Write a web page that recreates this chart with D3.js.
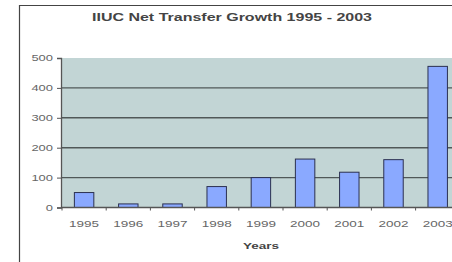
<!doctype html>
<html>
  <head>
    <meta charset="utf-8">
    <script src="https://cdn.jsdelivr.net/npm/d3@7/dist/d3.min.js"></script>
    <style>
      body { margin: 0; background: #fff; }
      svg { display: block; }
    </style>
  </head>
  <body>
    <div id="chart"></div>
  </body>
  <script>
    var years = ["1995", "1996", "1997", "1998", "1999", "2000", "2001", "2002", "2003"];
    var transfers = [50, 12, 12, 70, 100, 162, 118, 160, 472];
    var yTicks = [0, 100, 200, 300, 400, 500];
    var title = "IIUC Net Transfer Growth 1995 - 2003";
    var xTitle = "Years";

    var width = 452, height = 262;
    var plotLeft = 61, plotTop = 58, plotBottom = 207.5, bandW = 44.2;

    var svg = d3.select("#chart").append("svg")
      .attr("width", width)
      .attr("height", height);

    // outer frame (cut off at right and bottom)
    svg.append("path")
      .attr("d", "M19.5,262 V5.5 H452")
      .attr("fill", "none")
      .attr("stroke", "#444")
      .attr("stroke-width", 1.2);

    var x = d3.scaleBand()
      .domain(years)
      .range([plotLeft + 1, plotLeft + 1 + bandW * years.length])
      .paddingInner(0.56)
      .paddingOuter(0.28);

    var y = d3.scaleLinear()
      .domain([0, 500])
      .range([plotBottom, plotTop]);

    // plot background
    svg.append("rect")
      .attr("x", plotLeft)
      .attr("y", plotTop)
      .attr("width", width - plotLeft)
      .attr("height", plotBottom - plotTop)
      .attr("fill", "#c2d5d5");

    // gridlines
    svg.append("g")
      .selectAll("line")
      .data(yTicks.filter(function(d) { return d > 0 && d < 500; }))
      .enter().append("line")
      .attr("x1", plotLeft)
      .attr("x2", width)
      .attr("y1", function(d) { return y(d); })
      .attr("y2", function(d) { return y(d); })
      .attr("stroke", "#505858")
      .attr("stroke-width", 1.4);

    // bars
    svg.append("g")
      .selectAll("rect")
      .data(years)
      .enter().append("rect")
      .attr("x", function(d) { return x(d); })
      .attr("y", function(d, i) { return y(transfers[i]); })
      .attr("width", x.bandwidth())
      .attr("height", function(d, i) { return plotBottom - y(transfers[i]); })
      .attr("fill", "#8aa9ff")
      .attr("stroke", "#2b3050")
      .attr("stroke-width", 1);

    // y axis
    var yAxis = svg.append("g")
      .attr("transform", "translate(" + plotLeft + ",0)")
      .call(d3.axisLeft(y).tickValues(yTicks).tickSize(4).tickPadding(4));
    yAxis.select(".domain").attr("stroke", "#555").attr("stroke-width", 1.3);
    yAxis.selectAll(".tick line").attr("stroke", "#555");
    yAxis.selectAll("text")
      .attr("font-family", "Arial, 'Liberation Sans', sans-serif")
      .attr("font-size", 9)
      .attr("fill", "#666")
      .attr("textLength", function(d) { return String(d).length * 7.2; })
      .attr("lengthAdjust", "spacingAndGlyphs");

    // x axis
    var xAxis = svg.append("g")
      .attr("transform", "translate(0," + plotBottom + ")")
      .call(d3.axisBottom(x).tickSize(0).tickPadding(13));
    xAxis.select(".domain").remove();
    svg.append("line")
      .attr("x1", plotLeft).attr("x2", width)
      .attr("y1", plotBottom).attr("y2", plotBottom)
      .attr("stroke", "#555").attr("stroke-width", 1.3);
    xAxis.selectAll("text")
      .attr("font-family", "Arial, 'Liberation Sans', sans-serif")
      .attr("font-size", 9)
      .attr("fill", "#666")
      .attr("textLength", 30)
      .attr("lengthAdjust", "spacingAndGlyphs");

    // small tick marks between categories
    svg.append("g")
      .selectAll("line")
      .data(years)
      .enter().append("line")
      .attr("x1", function(d) { return x(d) - x.step() * x.paddingInner() / 2; })
      .attr("x2", function(d) { return x(d) - x.step() * x.paddingInner() / 2; })
      .attr("y1", plotBottom)
      .attr("y2", plotBottom + 3)
      .attr("stroke", "#555");

    svg.append("text")
      .attr("x", 232)
      .attr("y", 21)
      .attr("text-anchor", "middle")
      .attr("font-family", "Arial, 'Liberation Sans', sans-serif")
      .attr("font-weight", "bold")
      .attr("font-size", 10)
      .attr("fill", "#444")
      .attr("textLength", 280)
      .attr("lengthAdjust", "spacingAndGlyphs")
      .text(title);

    svg.append("text")
      .attr("x", 261)
      .attr("y", 249)
      .attr("text-anchor", "middle")
      .attr("font-family", "Arial, 'Liberation Sans', sans-serif")
      .attr("font-weight", "bold")
      .attr("font-size", 9)
      .attr("fill", "#444")
      .attr("textLength", 36)
      .attr("lengthAdjust", "spacingAndGlyphs")
      .text(xTitle);
  </script>
</html>
